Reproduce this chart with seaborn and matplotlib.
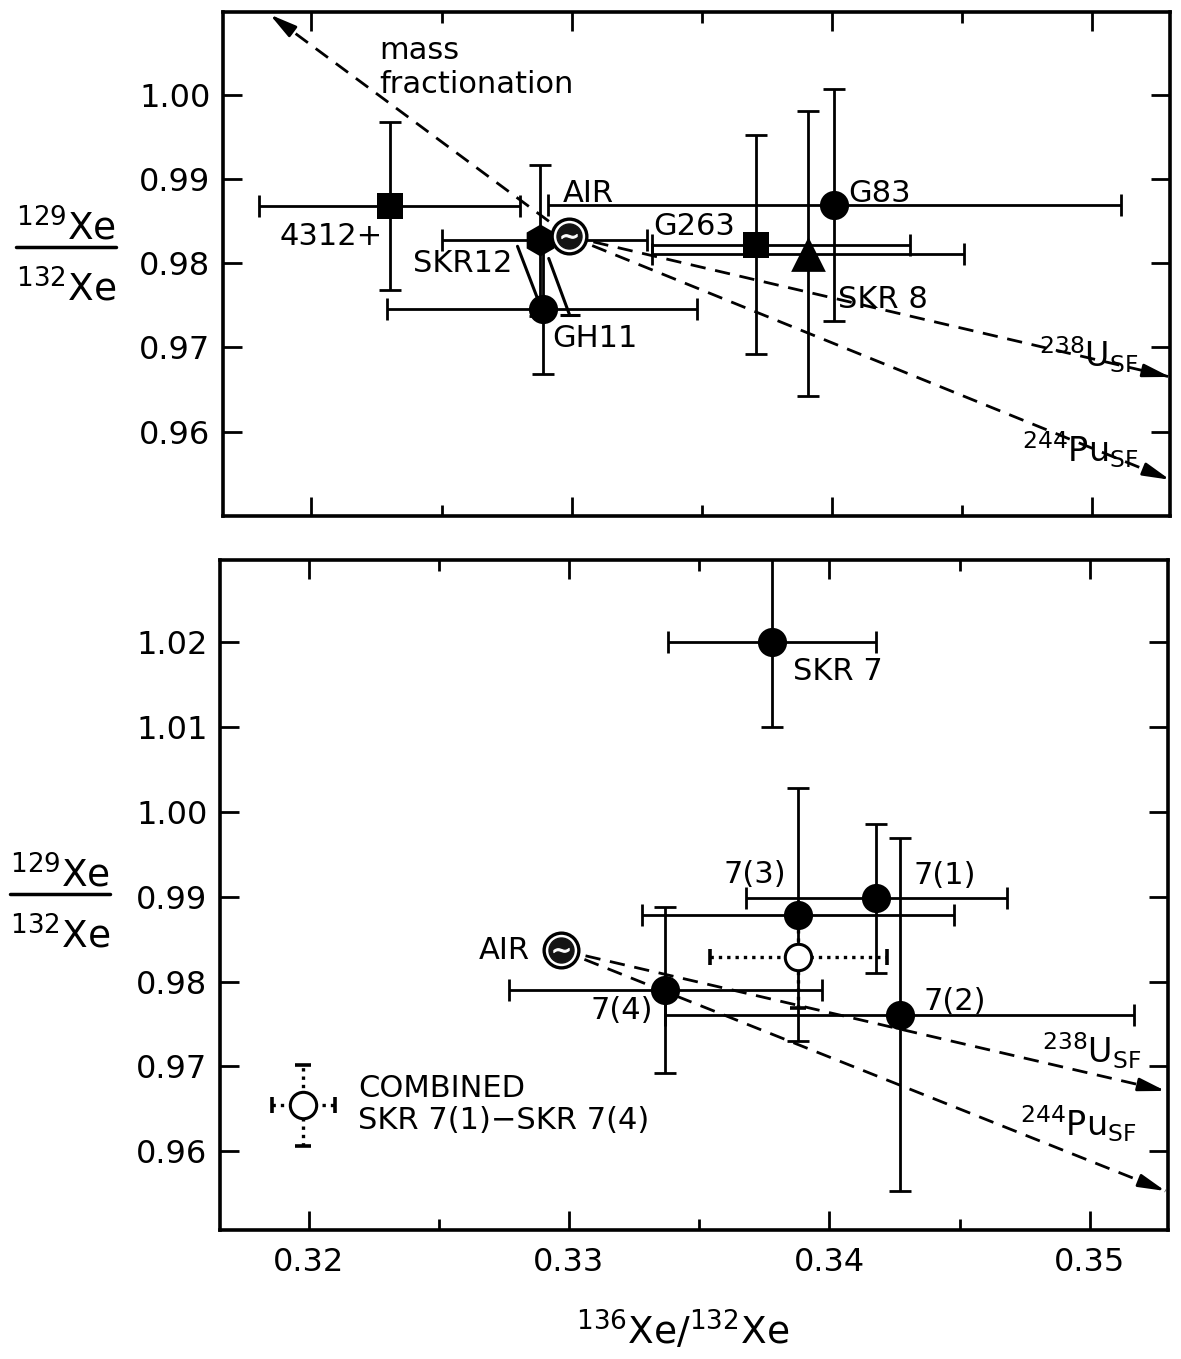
import matplotlib
matplotlib.use("Agg")
import matplotlib.pyplot as plt
from matplotlib.lines import Line2D
from matplotlib.ticker import FixedLocator, FormatStrFormatter
import numpy as np
import pandas as pd
import seaborn as sns

# ---- upper panel: individual samples ----
top_names = ["4312+", "SKR12", "GH11", "G263", "SKR 8", "G83"]
top_x = [0.3230, 0.3288, 0.3289, 0.3371, 0.3391, 0.3401]
top_y = [0.9868, 0.9827, 0.9746, 0.9822, 0.9811, 0.9869]
top_xerr_lo = [0.0050, 0.0038, 0.0060, 0.0040, 0.0060, 0.0110]
top_xerr_hi = [0.0050, 0.0041, 0.0059, 0.0059, 0.0060, 0.0110]
top_yerr = [0.0100, 0.0090, 0.0078, 0.0130, 0.0169, 0.0138]
top_markers = ["s", "h", "o", "s", "^", "o"]

# slanted band joining SKR12 and GH11
band_left_x = [0.32792, 0.32881]
band_left_y = [0.98200, 0.97483]
band_right_x = [0.32912, 0.32992]
band_right_y = [0.98056, 0.97387]

# ---- lower panel: SKR 7 and its fractions ----
bot_names = ["SKR 7", "7(1)", "7(3)", "7(4)", "7(2)"]
bot_x = [0.3378, 0.3418, 0.3388, 0.3337, 0.3427]
bot_y = [1.0200, 0.9898, 0.9879, 0.9790, 0.9761]
bot_xerr = [0.0040, 0.0050, 0.0060, 0.0060, 0.0090]
bot_yerr = [0.0100, 0.0088, 0.0149, 0.0098, 0.0208]

combined_x, combined_y = 0.3388, 0.9829
combined_xerr, combined_yerr = 0.0034, 0.0060

# symbol key for the combined point
key_x, key_y = 0.3198, 0.9654
key_xerr, key_yerr = 0.0012, 0.0048

# atmospheric xenon
air_top = (0.3299, 0.9832)
air_bot = (0.3297, 0.9837)

# end points of the fractionation / fission trends (they start at AIR)
frac_end = (0.3184, 1.0095)
u238_end_top = (0.3530, 0.9665)
pu244_end_top = (0.3530, 0.9543)
u238_end_bot = (0.3529, 0.9671)
pu244_end_bot = (0.3529, 0.9553)

x_ticks = [0.32, 0.33, 0.34, 0.35]
x_minor = [0.325, 0.335, 0.345]
top_yticks = [0.96, 0.97, 0.98, 0.99, 1.00]
bot_yticks = [0.96, 0.97, 0.98, 0.99, 1.00, 1.01, 1.02]

sns.set_theme(style="ticks")
plt.rcParams["font.family"] = ["DejaVu Sans"]
plt.rcParams["mathtext.fontset"] = "dejavusans"
for key in ["text.color", "axes.labelcolor", "xtick.color", "ytick.color", "axes.edgecolor"]:
    plt.rcParams[key] = "black"

W, H = 1181, 1359
fig = plt.figure(figsize=(W / 100, H / 100), dpi=100)
ax_top = fig.add_axes([223 / W, 1 - 516 / H, (1170 - 223) / W, (516 - 12) / H])
ax_bot = fig.add_axes([220 / W, 1 - 1230 / H, (1168 - 220) / W, (1230 - 560) / H])

FS = 22
ELW = 2.0
CAP = 8


def style_axes(ax, yticks, ylim, show_x):
    ax.set_xlim(0.3166, 0.3530)
    ax.set_ylim(*ylim)
    ax.xaxis.set_major_locator(FixedLocator(x_ticks))
    ax.xaxis.set_minor_locator(FixedLocator(x_minor))
    ax.yaxis.set_major_locator(FixedLocator(yticks))
    ax.yaxis.set_major_formatter(FormatStrFormatter("%.2f"))
    ax.xaxis.set_major_formatter(FormatStrFormatter("%.2f"))
    ax.tick_params(axis="both", which="major", direction="in", top=True, right=True,
                   length=14, width=2, labelsize=23, pad=9, color="black", labelcolor="black")
    ax.tick_params(axis="x", which="minor", direction="in", top=True, bottom=True,
                   length=8, width=2, color="black")
    ax.tick_params(axis="x", which="major", pad=12)
    if not show_x:
        ax.tick_params(axis="x", labelbottom=False)
    for sp in ax.spines.values():
        sp.set_linewidth(2.6)
        sp.set_color("black")
    ax.set_xlabel("")
    ax.set_ylabel("")


def trend(ax, start, end, arrow=True):
    ax.plot([start[0], end[0]], [start[1], end[1]], color="black", lw=2.0,
            linestyle=(0, (5.5, 3.5)), zorder=2)
    if arrow:
        sx = end[0] - 0.03 * (end[0] - start[0])
        sy = end[1] - 0.03 * (end[1] - start[1])
        ax.annotate("", xy=end, xytext=(sx, sy),
                    arrowprops=dict(arrowstyle="-|>,head_length=0.9,head_width=0.22",
                                    color="black", lw=2.0, mutation_scale=18,
                                    shrinkA=0, shrinkB=0), zorder=3)


def draw_air(ax, pos):
    ax.plot(pos[0], pos[1], marker="o", ms=25, mfc="white", mec="black", mew=2.4, zorder=7)
    ax.plot(pos[0], pos[1], marker="o", ms=18, mfc="#141414", mec="#141414", zorder=8)
    ax.plot(pos[0], pos[1], marker=r"$\sim$", ms=11, mfc="white", mec="white", mew=0.8, zorder=9)


# ---------------- upper panel ----------------
ax = ax_top
df_top = pd.DataFrame({"name": top_names, "x": top_x, "y": top_y, "marker": top_markers})
ax.errorbar(top_x, top_y, xerr=[top_xerr_lo, top_xerr_hi], yerr=top_yerr, fmt="none",
            ecolor="black", elinewidth=ELW, capsize=CAP, capthick=ELW, zorder=4)
sizes = {"s": 19, "h": 23, "o": 21, "^": 25}
for m, grp in df_top.groupby("marker"):
    sns.scatterplot(data=grp, x="x", y="y", marker=m, s=sizes[m] ** 2, color="black",
                    edgecolor="black", linewidth=0, ax=ax, zorder=6, legend=False)

ax.plot(band_left_x, band_left_y, color="black", lw=2.2, zorder=5)
ax.plot(band_right_x, band_right_y, color="black", lw=2.2, zorder=5)
ax.plot(band_right_x[-1], band_right_y[-1], marker="_", ms=14, mew=2.2, color="black", zorder=5)

trend(ax, air_top, frac_end)
trend(ax, air_top, u238_end_top)
trend(ax, air_top, pu244_end_top)
draw_air(ax, air_top)

ax.text(0.3226, 1.0069, "mass\nfractionation", fontsize=FS, ha="left", va="top", linespacing=1.2)
ax.text(0.32965, 0.9883, "AIR", fontsize=FS, ha="left", va="center")
ax.text(0.32273, 0.9832, "4312+", fontsize=FS, ha="right", va="center")
ax.text(0.32773, 0.9800, "SKR12", fontsize=FS, ha="right", va="center")
ax.text(0.32927, 0.9711, "GH11", fontsize=FS, ha="left", va="center")
ax.text(0.33312, 0.9843, "G263", fontsize=FS, ha="left", va="center")
ax.text(0.34062, 0.9883, "G83", fontsize=FS, ha="left", va="center")
ax.text(0.34023, 0.9757, "SKR 8", fontsize=FS, ha="left", va="center")
ax.text(0.3518, 0.9676, r"${}^{238}$U$_{\rm SF}$", fontsize=24, ha="right", va="baseline")
ax.text(0.3518, 0.9564, r"${}^{244}$Pu$_{\rm SF}$", fontsize=24, ha="right", va="baseline")
style_axes(ax, top_yticks, (0.9500, 1.0098), show_x=False)

# ---------------- lower panel ----------------
ax = ax_bot
df_bot = pd.DataFrame({"name": bot_names, "x": bot_x, "y": bot_y})
ax.errorbar(bot_x, bot_y, xerr=bot_xerr, yerr=bot_yerr, fmt="none", ecolor="black",
            elinewidth=ELW, capsize=CAP, capthick=ELW, zorder=4)
sns.scatterplot(data=df_bot, x="x", y="y", marker="o", s=21 ** 2, color="black",
                linewidth=0, ax=ax, zorder=6, legend=False)

for cx, cy, cxe, cye in [(combined_x, combined_y, combined_xerr, combined_yerr),
                         (key_x, key_y, key_xerr, key_yerr)]:
    eb = ax.errorbar([cx], [cy], xerr=[cxe], yerr=[cye], fmt="none", ecolor="black",
                     elinewidth=2.4, capsize=6, capthick=2.6, zorder=5)
    for lc in eb[2]:
        lc.set_linestyle((0, (1, 1.5)))
    ax.plot(cx, cy, marker="o", ms=19, mfc="white", mec="black", mew=2.2, zorder=7)

trend(ax, air_bot, u238_end_bot)
trend(ax, air_bot, pu244_end_bot)
draw_air(ax, air_bot)

ax.text(0.33862, 1.0165, "SKR 7", fontsize=FS, ha="left", va="center")
ax.text(0.33835, 0.9926, "7(3)", fontsize=FS, ha="right", va="center")
ax.text(0.34323, 0.9925, "7(1)", fontsize=FS, ha="left", va="center")
ax.text(0.3285, 0.9837, "AIR", fontsize=FS, ha="right", va="center")
ax.text(0.33323, 0.9766, "7(4)", fontsize=FS, ha="right", va="center")
ax.text(0.34362, 0.9777, "7(2)", fontsize=FS, ha="left", va="center")
ax.text(0.3520, 0.9704, r"${}^{238}$U$_{\rm SF}$", fontsize=24, ha="right", va="baseline")
ax.text(0.3518, 0.9618, r"${}^{244}$Pu$_{\rm SF}$", fontsize=24, ha="right", va="baseline")
ax.text(0.3219, 0.9655, "COMBINED\nSKR 7(1)\u2212SKR 7(4)", fontsize=FS, ha="left",
        va="center", linespacing=1.15)
style_axes(ax, bot_yticks, (0.9507, 1.0297), show_x=True)

# ---------------- axis titles ----------------
def ratio_label(cx, bar_y):
    fig.text(cx / W, 1 - (bar_y - 7) / H, r"${}^{129}$Xe", fontsize=27, ha="center", va="baseline")
    fig.text(cx / W, 1 - (bar_y + 54) / H, r"${}^{132}$Xe", fontsize=27, ha="center", va="baseline")
    fig.add_artist(Line2D([(cx - 50) / W, (cx + 50) / W], [1 - bar_y / H, 1 - bar_y / H],
                          color="black", lw=2.5))


ratio_label(66, 247)
ratio_label(60, 894)
fig.text(683 / W, 1 - 1345 / H, r"${}^{136}$Xe/${}^{132}$Xe", fontsize=27, ha="center", va="baseline")

fig.savefig("out.png", dpi=100, facecolor="white")
